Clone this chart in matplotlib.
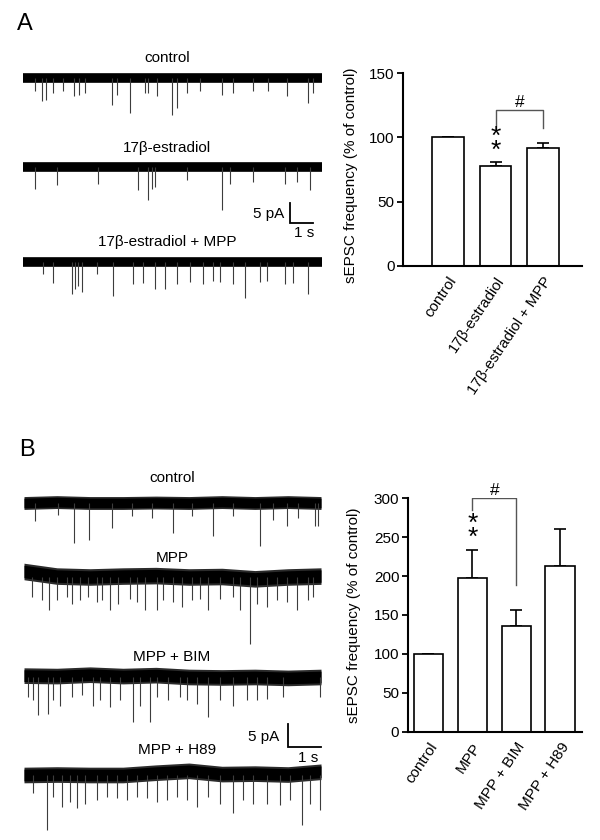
import numpy as np
import matplotlib.pyplot as plt
from matplotlib.lines import Line2D

plt.rcParams['font.family'] = ['Liberation Sans', 'DejaVu Sans']

W, H = 600, 840

# ---- bar data (% of control) ----
a_labels = ['control', '17β-estradiol', '17β-estradiol + MPP']
a_vals = [100, 78, 92]
a_err = [0, 3.2, 3.4]

b_labels = ['control', 'MPP', 'MPP + BIM', 'MPP + H89']
b_vals = [100, 197, 136, 213]
b_err = [0, 37, 20, 47]

# ---- example traces: sEPSC times (s) and amplitudes (pA, inward) ----
a_names = ['control', '17β-estradiol', '17β-estradiol + MPP']
a_ctrl_t = [0.51, 0.80, 0.99, 1.30, 1.74, 2.20, 2.43, 2.68, 3.84, 4.06, 4.64,
            5.29, 5.43, 5.80, 6.45, 6.67, 7.10, 7.68, 8.63, 9.13, 10.0, 10.65,
            11.45, 12.39, 12.6]
a_ctrl_amp = [3.3, 5.8, 5.4, 3.7, 3.3, 4.6, 4.2, 3.7, 6.7, 4.2, 8.8, 3.7, 3.7,
              4.6, 9.2, 7.5, 3.7, 3.3, 4.2, 3.7, 3.3, 3.3, 4.6, 6.2, 3.7]
a_e2_t = [0.51, 1.45, 3.26, 5.0, 5.43, 5.58, 5.73, 7.1, 8.63, 8.99, 10.0,
          11.38, 11.89, 12.47]
a_e2_amp = [5.4, 4.6, 4.2, 5.8, 8.3, 5.4, 5.0, 3.3, 10.8, 4.2, 3.7, 4.2, 3.7,
            5.8]
a_mpp_t = [0.84, 1.30, 2.10, 2.25, 2.39, 2.54, 3.19, 3.91, 4.78, 5.22, 5.72,
           6.16, 6.67, 7.25, 7.83, 8.26, 8.55, 9.13, 9.64, 10.29, 10.58,
           11.38, 11.74, 12.39]
a_mpp_amp = [3.1, 5.3, 8.1, 6.8, 5.9, 7.4, 3.1, 8.4, 5.6, 5.3, 6.8, 6.8, 5.6,
             5.0, 5.6, 4.7, 5.0, 5.6, 9.0, 5.0, 4.7, 5.6, 5.3, 8.1]

b_names = ['control', 'MPP', 'MPP + BIM', 'MPP + H89']
b_ctrl_t = [0.33, 1.04, 1.52, 1.98, 2.66, 3.26, 3.87, 4.52, 5.08, 5.74, 6.34,
            7.15, 7.55, 7.96, 8.31, 8.82, 8.92]
b_ctrl_amp = [4.0, 2.5, 8.7, 8.0, 5.4, 2.9, 3.3, 6.5, 2.9, 7.2, 2.9, 9.4, 3.6,
              5.1, 3.3, 5.1, 5.1]
b_mpp_t = [0.23, 0.54, 0.77, 0.99, 1.29, 1.44, 1.70, 1.95, 2.20, 2.35, 2.61,
           2.86, 3.21, 3.41, 3.67, 4.02, 4.22, 4.52, 4.78, 5.08, 5.33, 5.58,
           5.94, 6.34, 6.55, 6.85, 7.05, 7.35, 7.66, 7.96, 8.26, 8.62, 8.77]
b_mpp_amp = [4.3, 5.1, 7.2, 5.1, 4.3, 5.8, 5.1, 4.3, 5.4, 5.1, 7.2, 5.8, 4.7,
             5.4, 7.2, 7.2, 5.1, 5.4, 6.5, 5.1, 4.7, 7.2, 4.7, 4.3, 7.2, 14.5,
             5.8, 6.5, 5.1, 5.4, 7.2, 5.1, 4.3]
b_bim_t = [0.13, 0.28, 0.43, 0.74, 0.89, 1.09, 1.44, 1.75, 2.10, 2.30, 2.61,
           2.91, 3.31, 3.52, 3.82, 4.02, 4.37, 4.73, 4.93, 5.23, 5.58, 5.94,
           6.34, 6.75, 7.05, 7.35, 7.86, 8.97]
b_bim_amp = [4.3, 5.1, 8.3, 8.0, 5.1, 6.2, 4.3, 4.0, 6.2, 5.1, 6.5, 5.1, 9.8,
             6.2, 9.8, 4.3, 5.1, 4.3, 5.1, 5.8, 8.7, 5.1, 6.2, 5.1, 5.1, 4.7,
             4.3, 4.3]
b_h89_t = [0.28, 0.69, 0.89, 1.14, 1.39, 1.60, 1.85, 2.20, 2.51, 2.81, 3.11,
           3.41, 3.72, 4.02, 4.32, 4.63, 4.93, 5.23, 5.58, 5.94, 6.34, 6.65,
           6.95, 7.35, 7.76, 8.06, 8.41, 8.66, 8.97]
b_h89_amp = [4.0, 12.0, 4.7, 6.9, 5.8, 7.2, 6.2, 5.4, 4.7, 5.1, 5.4, 4.7, 5.1,
             5.8, 5.4, 4.7, 5.4, 6.9, 4.7, 6.2, 8.3, 5.4, 6.2, 6.2, 6.5, 5.4,
             10.9, 6.2, 7.6]

# slow baseline (pA) read once per second, B traces
b_drift_t = [0, 1, 2, 3, 4, 5, 6, 7, 8, 9]
b_ctrl_drift = [0, 0.2, 0, 0, 0.1, 0, 0.2, 0, 0.2, 0]
b_mpp_drift = [1.2, 0.2, 0, 0.2, 0.3, 0, 0.1, -0.4, 0, 0.2]
b_bim_drift = [0.3, 0.2, 0.5, 0.2, 0.4, 0, -0.1, 0, -0.2, 0]
b_h89_drift = [0, 0.1, 0, 0, 0.5, 0.9, 0.2, 0.3, 0.1, 0.7]


def px_axes(fig, x0, y0, x1, y1):
    """axes placed by pixel box (top-left origin)"""
    ax = fig.add_axes([x0 / W, 1 - y1 / H, (x1 - x0) / W, (y1 - y0) / H])
    return ax


def draw_trace(ax, t, v, half, offset, spike_t, spike_amp):
    v = np.asarray(v, dtype=float) + offset
    ax.fill_between(t, v - half, v + half, color='#2b2b2b', lw=0)
    ax.fill_between(t, v - half * 0.75, v + half * 0.75, color='black', lw=0)
    ax.vlines(spike_t, offset - np.asarray(spike_amp), offset,
              color='#3c3c3c', lw=0.8)


def scale_bar(ax, x, y, fs=11):
    ax.plot([x, x, x + 1], [y + 5, y, y], color='black', lw=1.3,
            solid_joinstyle='miter')
    ax.text(x - 0.25, y + 2.2, '5 pA', ha='right', va='center', fontsize=fs)
    ax.text(x + 0.6, y - 2.5, '1 s', ha='center', va='center', fontsize=fs)


def bar_panel(ax, labels, vals, err, ymax, step, xlim):
    x = np.arange(len(vals))
    ax.bar(x, vals, width=0.67, color='white', edgecolor='black',
           linewidth=1.2, zorder=2)
    ax.errorbar(x, vals, yerr=[np.zeros(len(err)), err], fmt='none',
                ecolor='black', elinewidth=1.2, capsize=4, capthick=1.2,
                zorder=1)
    ax.set_xlim(*xlim)
    ax.set_ylim(0, ymax)
    ax.set_yticks(np.arange(0, ymax + 1, step))
    ax.set_xticks(x)
    ax.set_xticklabels(labels, rotation=56, ha='right', va='top',
                       rotation_mode='anchor', fontsize=11)
    ax.tick_params(axis='x', length=0, pad=6)
    ax.tick_params(axis='y', length=4, width=1.3, pad=2, labelsize=11)
    for s in ['top', 'right']:
        ax.spines[s].set_visible(False)
    ax.spines['left'].set_linewidth(1.5)
    ax.spines['bottom'].set_linewidth(1.5)
    ax.set_ylabel('sEPSC frequency (% of control)', fontsize=11)
    ax.patch.set_alpha(0)


def bracket(ax, x0, x1, y_top, y0_low, y1_low):
    ax.add_line(Line2D([x0, x0, x1, x1], [y0_low, y_top, y_top, y1_low],
                       color='#555555', lw=1.0))
    ax.text((x0 + x1) / 2, y_top, '#', ha='center', va='bottom',
            fontsize=12.5)


def stars(ax, x, y):
    # two stacked asterisks as one text
    ax.text(x, y, '*\n*', ha='center', va='center', fontsize=19,
            linespacing=0.48)


fig = plt.figure(figsize=(W / 100, H / 100), dpi=100)

# ---------------- panel A ----------------
fig.text(25 / W, 1 - 24 / H, 'A', fontsize=17, ha='center', va='center')

a_t0, a_pps, a_base, a_ppa = 23.3, 23.0, 78.0, 4.0
ax = px_axes(fig, 0, 40, 340, 320)
ax.set_xlim((0 - a_t0) / a_pps, (340 - a_t0) / a_pps)
ax.set_ylim(-(320 - a_base) / a_ppa, (a_base - 40) / a_ppa)
ax.axis('off')
a_dur = 12.97
a_off = [0, -(167 - a_base) / a_ppa, -(262 - a_base) / a_ppa]
a_spikes = [(a_ctrl_t, a_ctrl_amp), (a_e2_t, a_e2_amp), (a_mpp_t, a_mpp_amp)]
a_lab_y = [58, 148, 242]
for name, off, (st, sa), ly in zip(a_names, a_off, a_spikes, a_lab_y):
    draw_trace(ax, [0, a_dur], [0, 0], 1.2, off, st, sa)
    ax.text((167 - a_t0) / a_pps, -(ly - a_base) / a_ppa, name,
            ha='center', va='center', fontsize=11)
scale_bar(ax, (290 - a_t0) / a_pps, -(223 - a_base) / a_ppa)

axa = px_axes(fig, 403, 73.3, 582, 265.7)
bar_panel(axa, a_labels, a_vals, a_err, 150, 50, (-0.95, 2.82))
axa.yaxis.set_label_coords(-0.25, 0.47)
bracket(axa, 1, 2, 121, 107, 107)
stars(axa, 1, 95)

# ---------------- panel B ----------------
fig.text(27 / W, 1 - 450 / H, 'B', fontsize=17, ha='center', va='center')

b_t0, b_pps, b_base, b_ppa = 24.0, 33.0, 503.0, 4.6
bx = px_axes(fig, 0, 440, 340, 840)
bx.set_xlim((0 - b_t0) / b_pps, (340 - b_t0) / b_pps)
bx.set_ylim(-(840 - b_base) / b_ppa, (b_base - 440) / b_ppa)
bx.axis('off')
b_off = [0, -(577 - b_base) / b_ppa, -(677 - b_base) / b_ppa,
         -(775 - b_base) / b_ppa]
b_spikes = [(b_ctrl_t, b_ctrl_amp), (b_mpp_t, b_mpp_amp),
            (b_bim_t, b_bim_amp), (b_h89_t, b_h89_amp)]
b_drifts = [b_ctrl_drift, b_mpp_drift, b_bim_drift, b_h89_drift]
b_half = [1.4, 1.8, 1.7, 1.7]
b_lab_y = [478, 558, 657, 750]
b_lab_x = [172, 172, 172, 177]
for i, name in enumerate(b_names):
    st, sa = b_spikes[i]
    draw_trace(bx, b_drift_t, b_drifts[i], b_half[i], b_off[i], st, sa)
    bx.text((b_lab_x[i] - b_t0) / b_pps, -(b_lab_y[i] - b_base) / b_ppa,
            name, ha='center', va='center', fontsize=11)
scale_bar(bx, (288 - b_t0) / b_pps, -(747 - b_base) / b_ppa)

axb = px_axes(fig, 407.7, 498.3, 581.7, 731.7)
bar_panel(axb, b_labels, b_vals, b_err, 300, 50, (-0.47, 3.49))
axb.yaxis.set_label_coords(-0.27, 0.5)
bracket(axb, 1, 2, 300, 285, 188)
stars(axb, 1, 258)

fig.savefig('out.png', dpi=100)
